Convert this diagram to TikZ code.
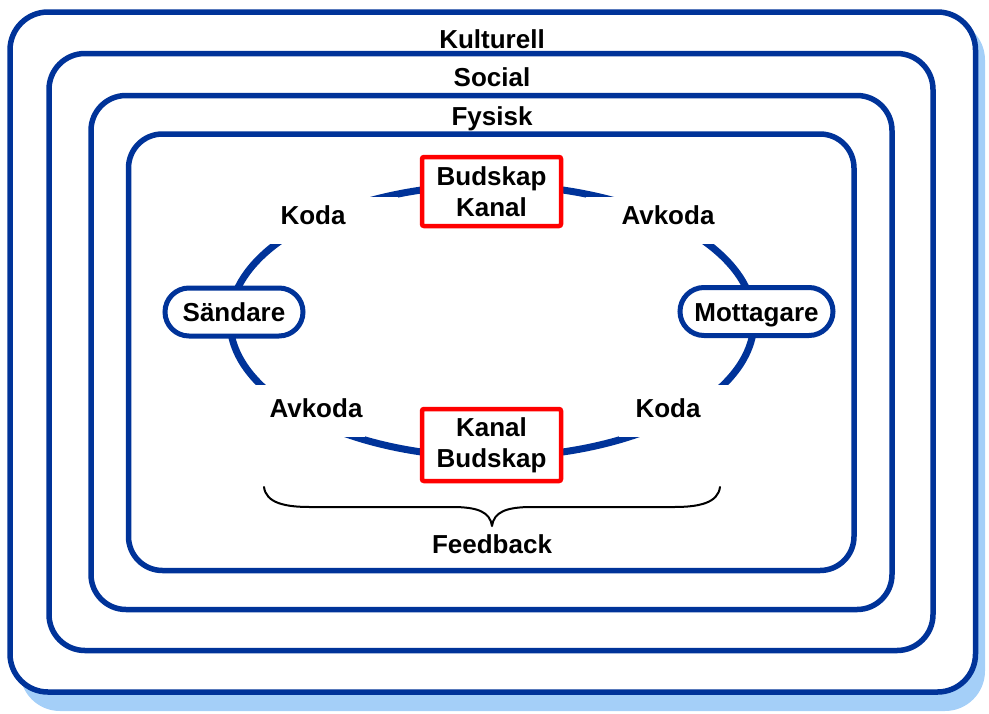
\documentclass[tikz,border=0pt]{standalone}
\usepackage{fontspec}
\setmainfont{Liberation Sans}
\definecolor{frameblue}{RGB}{0,51,153}
\definecolor{shadowblue}{RGB}{164,207,248}
\begin{document}
\begin{tikzpicture}[x=1pt,y=-1pt,
  frame/.style={draw=frameblue, line width=5.5pt, rounded corners=38pt},
  txt/.style={font=\fontsize{26}{31}\selectfont\bfseries, text=black, inner sep=0pt},
  lbl/.style={txt, anchor=base},
  party/.style={txt, draw=frameblue, line width=5pt, rounded corners=24pt, fill=white,
    minimum height=48pt, text height=19pt, text depth=0pt},
  msg/.style={txt, draw=red, line width=4.5pt, rounded corners=2pt, fill=white,
    minimum width=139pt, align=center},
  mask/.style={fill=white}]
\useasboundingbox (0,0) rectangle (989,713);
% shadow and frames
\fill[shadowblue, rounded corners=40pt] (20,20) rectangle (985,711);
\fill[white, rounded corners=38pt] (10,12) rectangle (975.5,692);
\draw[frame] (10,12) rectangle (975.5,692);
\draw[frame, rounded corners=36pt] (49,53.5) rectangle (933,650.5);
\draw[frame, rounded corners=35pt] (91,95.5) rectangle (892,609.5);
\draw[frame, rounded corners=34pt] (128.5,134) rectangle (854,570.5);
% frame titles
\node[lbl] (kult) at (492,48) {Kulturell};
\node[lbl] (soc) at (492,86) {Social};
\node[lbl] (fys) at (492,125) {Fysisk};
% communication ellipse
\draw[frameblue, line width=7pt] (492,321) ellipse [x radius=262, y radius=136];
\fill[mask] (225,197) rectangle (398,244);
\fill[mask] (586,197) rectangle (759,244);
\fill[mask] (225,385) rectangle (365,437);
\fill[mask] (619,385) rectangle (759,437);
% labels
\node[lbl] (koda1) at (313,224.5) {Koda};
\node[lbl] (avkoda1) at (668,224) {Avkoda};
\node[lbl] (avkoda2) at (316,417) {Avkoda};
\node[lbl] (koda2) at (668,417) {Koda};
% parties
\node[party, minimum width=138pt] (sand) at (234,312) {Sändare};
\node[party, minimum width=153pt] (mott) at (756.5,311.5) {Mottagare};
% message boxes
\node[msg, minimum height=69pt] (msg1) at (491.5,191.5) {Budskap\\Kanal};
\node[msg, minimum height=72pt] (msg2) at (491.5,445) {Kanal\\Budskap};
% feedback brace
\draw[black, line width=2pt, line cap=round, line join=round]
  (264,487) .. controls (266,503) and (285,507) .. (310,507) -- (452,507)
  .. controls (478,507) and (490,512) .. (492,526)
  .. controls (494,512) and (506,507) .. (532,507) -- (674,507)
  .. controls (699,507) and (718,503) .. (720,487);
\node[lbl] (feed) at (492,553) {Feedback};
\end{tikzpicture}
\end{document}
